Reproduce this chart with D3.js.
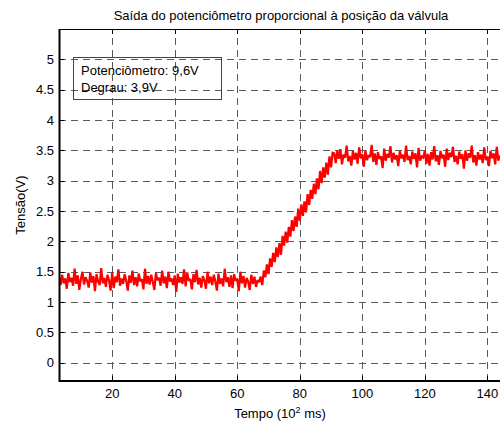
<!DOCTYPE html>
<html>
<head>
<meta charset="utf-8">
<script src="https://d3js.org/d3.v7.min.js"></script>
<style>
  body { margin: 0; background: #fff; }
  text { font-family: "Liberation Sans", Arial, sans-serif; fill: #000; }
</style>
</head>
<body>
<svg id="chart" width="500" height="421"></svg>
<script>
// dados (tempo em 10^2 ms, tensão em V), amostras a cada 0.5
const tempo = d3.range(3, 145.25, 0.5);
const tensao = [
  // repouso ~1.37 V
  1.42,1.28,1.45,1.31,1.39,1.22,1.48,1.33,1.40,1.27,
  1.55,1.30,1.44,1.20,1.38,1.50,1.29,1.41,1.35,1.24,
  1.49,1.32,1.43,1.18,1.46,1.34,1.28,1.56,1.31,1.40,
  1.25,1.45,1.36,1.19,1.48,1.23,1.42,1.33,1.54,1.27,
  1.39,1.30,1.46,1.35,1.19,1.44,1.32,1.52,1.28,1.41,
  1.26,1.47,1.34,1.38,1.21,1.55,1.30,1.43,1.29,1.45,
  1.33,1.20,1.48,1.36,1.40,1.27,1.52,1.31,1.42,1.23,
  1.50,1.34,1.39,1.28,1.44,1.17,1.47,1.32,1.41,1.30,
  1.54,1.26,1.49,1.35,1.38,1.21,1.46,1.33,1.53,1.29,
  1.40,1.24,1.43,1.36,1.22,1.50,1.31,1.42,1.28,1.45,
  1.34,1.19,1.47,1.30,1.39,1.26,1.55,1.33,1.41,1.25,
  1.44,1.23,1.46,1.35,1.38,1.18,1.50,1.31,1.43,1.24,
  1.40,1.34,1.20,1.45,1.30,1.42,1.25,1.36,1.33,
  // rampa
  1.42,1.28,1.52,1.41,1.62,1.46,1.72,1.58,1.81,1.66,
  1.90,1.74,1.97,1.78,2.09,1.93,2.16,1.98,2.24,2.08,
  2.35,2.17,2.41,2.24,2.54,2.34,2.61,2.42,2.66,2.48,
  2.78,2.60,2.85,2.70,2.95,2.78,3.04,2.86,3.16,2.96,
  3.22,3.05,3.30,3.10,3.40,3.22,3.46,
  // patamar ~3.40 V
  3.45,3.29,3.50,3.36,3.52,3.27,3.43,3.38,3.58,3.32,
  3.41,3.25,3.49,3.35,3.46,3.28,3.55,3.37,3.44,3.23,
  3.50,3.34,3.42,3.39,3.59,3.31,3.45,3.26,3.47,3.36,
  3.40,3.21,3.53,3.33,3.44,3.38,3.57,3.30,3.46,3.35,
  3.42,3.24,3.49,3.37,3.43,3.31,3.58,3.34,3.41,3.27,
  3.48,3.36,3.45,3.22,3.54,3.33,3.40,3.38,3.50,3.28,
  3.44,3.25,3.47,3.35,3.57,3.32,3.42,3.26,3.49,3.37,
  3.43,3.23,3.53,3.34,3.46,3.39,3.56,3.31,3.41,3.27,
  3.48,3.36,3.44,3.20,3.50,3.33,3.45,3.38,3.58,3.30,
  3.42,3.25,3.47,3.35,3.43,3.29,3.55,3.34,3.40,3.24,
  3.49,3.37,3.45,3.27,3.56,3.33,3.41,3.38,3.46
];
const xTicks = [20, 40, 60, 80, 100, 120, 140];
const yTicks = [0, 0.5, 1, 1.5, 2, 2.5, 3, 3.5, 4, 4.5, 5];
const legenda = ["Potenciômetro: 9,6V", "Degrau: 3,9V"];

const svg = d3.select("#chart");
const x = d3.scaleLinear().domain([3, 145]).range([59, 503]);
const y = d3.scaleLinear().domain([-0.3, 5.5]).range([381, 29]);
const x0 = x.range()[0], x1 = x.range()[1], yB = y.range()[0], yT = y.range()[1];

svg.append("rect").attr("width", 500).attr("height", 421).attr("fill", "#fff");

svg.append("defs").append("clipPath").attr("id", "clip")
  .append("rect").attr("x", x0).attr("y", yT).attr("width", x1 - x0).attr("height", yB - yT);

// grade
const grid = svg.append("g").attr("stroke", "#5a5a5a").attr("stroke-width", 1)
  .attr("stroke-dasharray", "7,5").attr("fill", "none");
grid.selectAll("line.v").data(xTicks).enter().append("line")
  .attr("x1", d => Math.round(x(d)) + 0.5).attr("x2", d => Math.round(x(d)) + 0.5)
  .attr("y1", yB).attr("y2", yT);
grid.selectAll("line.h").data(yTicks).enter().append("line")
  .attr("y1", d => Math.round(y(d)) + 0.5).attr("y2", d => Math.round(y(d)) + 0.5)
  .attr("x1", x0).attr("x2", x1);

// sinal
const line = d3.line().x((d, i) => x(tempo[i])).y(d => y(d));
svg.append("path").datum(tensao)
  .attr("clip-path", "url(#clip)")
  .attr("fill", "none").attr("stroke", "#ff0000").attr("stroke-width", 2.2)
  .attr("stroke-linejoin", "miter").attr("stroke-miterlimit", 2)
  .attr("d", line);

// ticks internos
const ticks = svg.append("g").attr("stroke", "#000").attr("stroke-width", 1);
xTicks.forEach(t => {
  const px = Math.round(x(t)) + 0.5;
  ticks.append("line").attr("x1", px).attr("x2", px).attr("y1", yB).attr("y2", yB - 5);
  ticks.append("line").attr("x1", px).attr("x2", px).attr("y1", yT).attr("y2", yT + 5);
});
yTicks.forEach(t => {
  const py = Math.round(y(t)) + 0.5;
  ticks.append("line").attr("x1", x0).attr("x2", x0 + 5).attr("y1", py).attr("y2", py);
});

// eixos
svg.append("line").attr("x1", x0).attr("x2", x1).attr("y1", yT + 0.5).attr("y2", yT + 0.5)
  .attr("stroke", "#000").attr("stroke-width", 1);
svg.append("line").attr("x1", x0 + 0.5).attr("x2", x0 + 0.5).attr("y1", yT).attr("y2", yB + 1)
  .attr("stroke", "#000").attr("stroke-width", 2);
svg.append("line").attr("x1", x0).attr("x2", x1).attr("y1", yB).attr("y2", yB)
  .attr("stroke", "#000").attr("stroke-width", 2);

// rótulos dos ticks
svg.append("g").selectAll("text").data(xTicks).enter().append("text")
  .attr("x", d => x(d)).attr("y", 398).attr("text-anchor", "middle")
  .attr("font-size", 13).text(d => d);
svg.append("g").selectAll("text").data(yTicks).enter().append("text")
  .attr("x", 54).attr("y", d => y(d) + 4.5).attr("text-anchor", "end")
  .attr("font-size", 13).text(d => d);

// títulos
svg.append("text").attr("x", 281).attr("y", 20).attr("text-anchor", "middle")
  .attr("font-size", 13).text("Saída do potenciômetro proporcional à posição da válvula");
const xl = svg.append("text").attr("x", 280).attr("y", 418).attr("text-anchor", "middle")
  .attr("font-size", 13);
xl.append("tspan").text("Tempo (10");
xl.append("tspan").attr("font-size", 9).attr("dy", -5).text("2");
xl.append("tspan").attr("dy", 5).text(" ms)");
svg.append("text").attr("transform", "translate(25,205) rotate(-90)")
  .attr("text-anchor", "middle").attr("font-size", 13).text("Tensão(V)");

// caixa de texto
svg.append("rect").attr("x", 73.5).attr("y", 57.5).attr("width", 148).attr("height", 42)
  .attr("fill", "none").attr("stroke", "#444").attr("stroke-width", 1);
svg.append("g").selectAll("text").data(legenda).enter().append("text")
  .attr("x", 81).attr("y", (d, i) => 75 + i * 17).attr("font-size", 13).text(d => d);
</script>
</body>
</html>
